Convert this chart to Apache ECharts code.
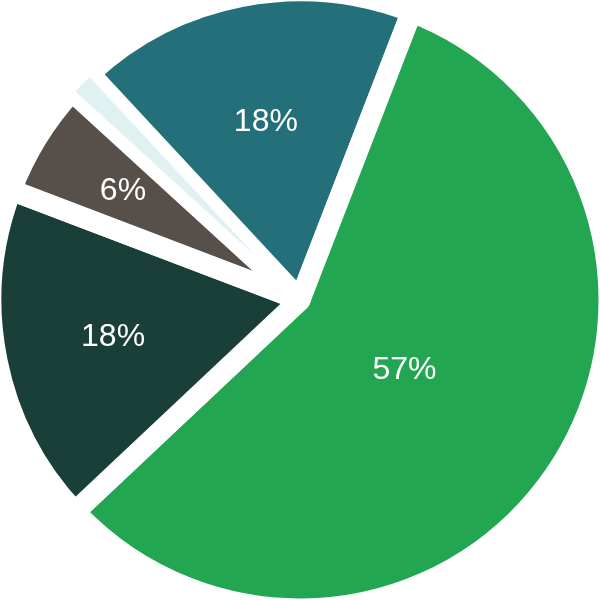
<!DOCTYPE html>
<html>
   <head>
      <meta charset="utf-8">
      <script type="text/javascript" src="https://cdn.jsdelivr.net/npm/echarts@6/dist/echarts.min.js"></script>
      <title>Pie</title>
      <style>
         html, body { margin: 0; padding: 0; background: #ffffff; }
      </style>
   </head>
   <body>
      <div id="chart" style="width:600px;height:600px"></div>
      <script type="text/javascript">
         // slices in drawing order, clockwise from the teal one
         var names = ["teal", "green", "dark", "brown", "pale"];
         var values = [17.8, 57.1, 17.8, 6.0, 1.3];
         var colors = ["#236f7a", "#22a652", "#1a3f38", "#57504a", "#dff2f1"];
         // how far out each label sits, relative to the default inside spot
         var labelScale = [1.15, 0.80, 1.21, 1.32, 1];

         var data = [];
         for (var i = 0; i < values.length; ++i) {
            var item = {
               name: names[i],
               value: values[i],
               itemStyle: {color: colors[i]}
            };
            if (names[i] == "pale") {
               // thin slice drawn last with a narrow border so it stays visible
               item.itemStyle.borderWidth = 5;
               item.label = {show: false};
            }
            data.push(item);
         }

         var cx = 300, cy = 300;
         var myChart = echarts.init(document.getElementById("chart"));
         myChart.setOption({
            animation: false,
            backgroundColor: "#ffffff",
            series: [
               {
                  type: "pie",
                  center: [cx, cy],
                  radius: 309,
                  startAngle: 132.9,
                  clockwise: true,
                  avoidLabelOverlap: false,
                  silent: true,
                  itemStyle: {
                     borderColor: "#ffffff",
                     borderWidth: 21
                  },
                  label: {
                     show: true,
                     position: "inside",
                     color: "#ffffff",
                     fontFamily: "Liberation Sans, Arial, sans-serif",
                     fontSize: 32,
                     formatter: function (p) {
                        return Math.round(p.percent) + "%";
                     }
                  },
                  labelLine: {show: false},
                  labelLayout: function (p) {
                     var r = p.labelRect;
                     var lx = r.x + r.width / 2, ly = r.y + r.height / 2;
                     var k = labelScale[p.dataIndex];
                     return {
                        dx: (lx - cx) * (k - 1),
                        dy: (ly - cy) * (k - 1)
                     };
                  },
                  data: data
               }
            ]
         });
      </script>
   </body>
</html>
